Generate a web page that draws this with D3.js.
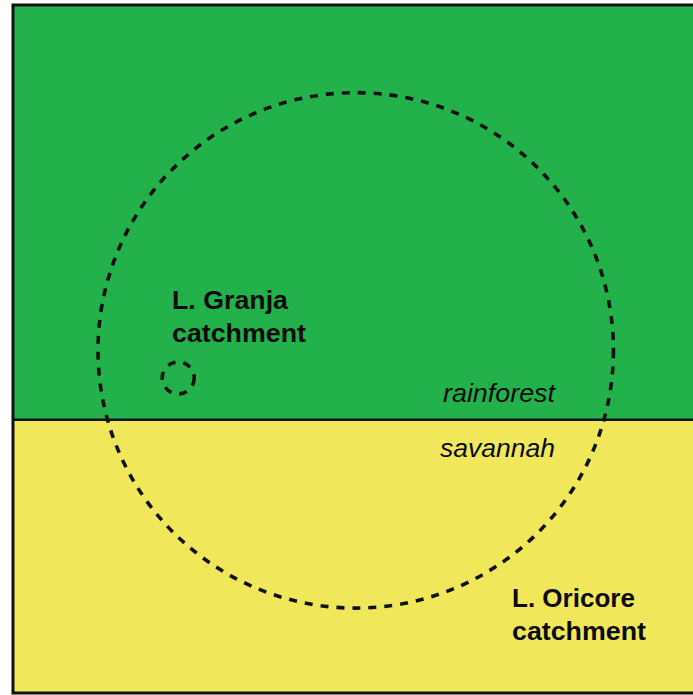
<!DOCTYPE html>
<html>
<head>
<meta charset="utf-8">
<script src="https://cdn.jsdelivr.net/npm/d3@7"></script>
<style>
  body { margin: 0; background: #fff; }
  svg { display: block; }
</style>
</head>
<body>
<svg width="693" height="695"></svg>
<script>
// map units: 0-100 across and up the frame
const zones = ['rainforest', 'savannah'];
const zoneBounds = [[39.7, 100], [0, 39.7]];
const catchments = ['L. Oricore', 'L. Granja'];
const catchX = [50.4, 24.3];
const catchY = [49.8, 45.8];
const catchR = [37.9, 2.35];

const svg = d3.select('svg');

const x = d3.scaleLinear().domain([0, 100]).range([13, 693]);
const y = d3.scaleLinear().domain([0, 100]).range([693, 5]);
const color = d3.scaleOrdinal().domain(zones).range(['#22b14b', '#f0e85a']);

svg.selectAll('rect.zone')
  .data(zones)
  .join('rect')
    .attr('class', 'zone')
    .attr('x', x(0))
    .attr('y', (d, i) => y(zoneBounds[i][1]))
    .attr('width', x(100) - x(0))
    .attr('height', (d, i) => y(zoneBounds[i][0]) - y(zoneBounds[i][1]))
    .attr('fill', d => color(d));

// divider between the two zones
svg.append('line')
  .attr('x1', x(0))
  .attr('x2', x(100))
  .attr('y1', y(zoneBounds[0][0]))
  .attr('y2', y(zoneBounds[0][0]))
  .attr('stroke', '#111')
  .attr('stroke-width', 2.5);

// frame
svg.append('rect')
  .attr('x', x(0))
  .attr('y', y(100))
  .attr('width', x(100) - x(0) + 10)
  .attr('height', y(0) - y(100))
  .attr('fill', 'none')
  .attr('stroke', '#111')
  .attr('stroke-width', 3);

svg.selectAll('circle.catch')
  .data(catchments)
  .join('circle')
    .attr('class', 'catch')
    .attr('cx', (d, i) => x(catchX[i]))
    .attr('cy', (d, i) => y(catchY[i]))
    .attr('r', (d, i) => x(catchR[i]) - x(0))
    .attr('fill', 'none')
    .attr('stroke', '#111')
    .attr('stroke-width', 3.6)
    .attr('stroke-dasharray', '8,8');

// labels
const label = (txt, px, py, w, style) => {
  svg.append('text')
    .attr('x', px)
    .attr('y', py)
    .attr('textLength', w)
    .attr('lengthAdjust', 'spacingAndGlyphs')
    .attr('font-family', 'Liberation Sans, Arial, sans-serif')
    .attr('font-size', 26)
    .attr('font-weight', style === 'bold' ? 'bold' : 'normal')
    .attr('font-style', style === 'italic' ? 'italic' : 'normal')
    .attr('fill', '#0a0a0a')
    .text(txt);
};

label(catchments[1], 172, 309, 116, 'bold');
label('catchment', 172, 342, 134, 'bold');
label(catchments[0], 512, 607, 123, 'bold');
label('catchment', 512, 640, 134, 'bold');
label(zones[0], 443, 402, 112, 'italic');
label(zones[1], 440, 457, 115, 'italic');
</script>
</body>
</html>
